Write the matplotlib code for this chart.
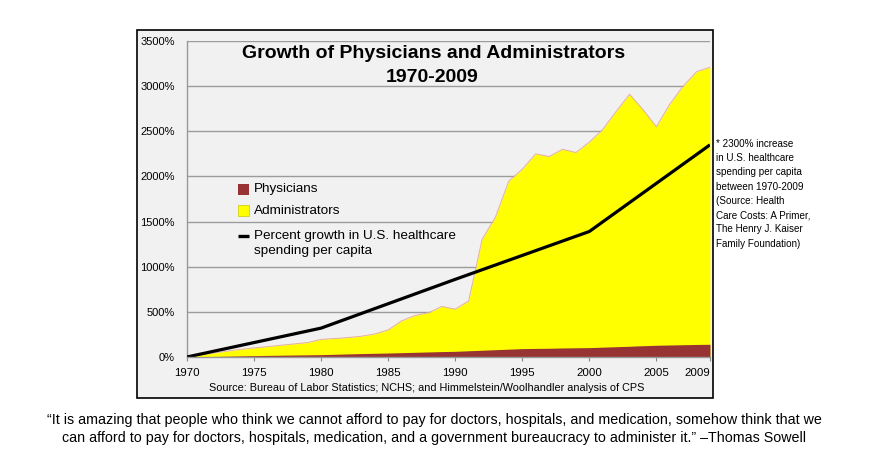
import matplotlib.pyplot as plt
from matplotlib import font_manager
from matplotlib.patches import Rectangle
from matplotlib.lines import Line2D

# Data (percent growth since 1970)
years = list(range(1970, 2010))
administrators = [0, 25, 45, 65, 85, 100, 115, 130, 145, 160,
                  195, 205, 215, 230, 255, 300, 400, 460, 490, 560,
                  530, 620, 1300, 1550, 1950, 2080, 2250, 2220, 2300, 2265,
                  2380, 2520, 2720, 2910, 2740, 2550, 2800, 3000, 3160, 3210]
physicians = [0, 3, 6, 9, 12, 15, 18, 20, 22, 24,
              26, 30, 34, 38, 41, 44, 48, 52, 56, 60,
              63, 69, 75, 81, 87, 93, 95, 97, 100, 102,
              104, 109, 114, 119, 125, 130, 133, 136, 139, 141]
spend_years = [1970, 1980, 1990, 2000, 2009]
spending = [0, 320, 860, 1390, 2350]

xticks = [1970, 1975, 1980, 1985, 1990, 1995, 2000, 2005, 2009]
yticks = [0, 500, 1000, 1500, 2000, 2500, 3000, 3500]

plt.rcParams['font.family'] = ['Liberation Sans', 'DejaVu Sans']

# the original uses a narrow font for small text; shrink if it is missing
names = {f.name for f in font_manager.fontManager.ttflist}
if 'Liberation Sans Narrow' in names:
    narrow, k = ['Liberation Sans Narrow', 'DejaVu Sans'], 1.0
else:
    narrow, k = ['Liberation Sans', 'DejaVu Sans'], 0.87

red = '#983333'
yellow = '#ffff00'
bg = '#f1f1f1'

fig = plt.figure(figsize=(8.71, 4.59), dpi=100)
fig.patch.set_facecolor('white')

def fx(px):
    return px / 871

def fy(px):
    return 1 - px / 459

# outer frame
fig.add_artist(Rectangle((fx(137), fy(398)), 576 / 871, 368 / 459,
                         transform=fig.transFigure, facecolor=bg,
                         edgecolor='black', lw=1.2, zorder=0))

ax = fig.add_axes([fx(187), fy(357), 523 / 871, 316 / 459])
ax.set_facecolor(bg)
ax.set_axisbelow(True)

ax.fill_between(years, 0, administrators, color=yellow, lw=0, zorder=2)
ax.plot(years, administrators, color='#e6b09a', lw=0.7, zorder=2.5)
ax.fill_between(years, 0, physicians, color=red, lw=0, zorder=3)
ax.plot(spend_years, spending, color='black', lw=2.3, zorder=4,
        solid_capstyle='butt')

ax.set_xlim(1970, 2009)
ax.set_ylim(0, 3500)
ax.set_xticks(xticks)
ax.set_xticklabels([str(y) for y in xticks], family=narrow, fontsize=9.5 * k)
ax.set_yticks(yticks)
ax.set_yticklabels([f'{v}%' for v in yticks], family=narrow, fontsize=9.2 * k)
ax.get_xticklabels()[-1].set_horizontalalignment('right')
ax.tick_params(axis='y', length=0, pad=8.6)
ax.tick_params(axis='x', length=3, color='#888888', pad=5)
ax.yaxis.grid(True, color='#9c9c9c', lw=1)
for s in ['top', 'right']:
    ax.spines[s].set_visible(False)
for s in ['left', 'bottom']:
    ax.spines[s].set_color('#999999')
    ax.spines[s].set_linewidth(1)
ax.spines['bottom'].set_zorder(5)

fig.text(fx(434), fy(53), 'Growth of Physicians and Administrators',
         ha='center', va='center', fontsize=14, fontweight='bold')
fig.text(fx(432), fy(77), '1970-2009',
         ha='center', va='center', fontsize=14, fontweight='bold')

# legend, laid out like the original
fig.add_artist(Rectangle((fx(238), fy(195)), 11 / 871, 11 / 459,
                         transform=fig.transFigure, facecolor=red, lw=0))
fig.add_artist(Rectangle((fx(238), fy(216.5)), 11 / 871, 11 / 459,
                         transform=fig.transFigure, facecolor=yellow,
                         edgecolor='#c8c800', lw=0.5))
fig.add_artist(Line2D([fx(238), fx(249)], [fy(236), fy(236)],
                      transform=fig.transFigure, color='black', lw=2.4,
                      solid_capstyle='butt'))
legend_labels = ['Physicians', 'Administrators',
                 'Percent growth in U.S. healthcare', 'spending per capita']
for lab, ypx in zip(legend_labels, [189, 210.5, 236, 251]):
    fig.text(fx(254), fy(ypx), lab, ha='left', va='center', fontsize=9.7)

fig.text(fx(427), fy(388),
         'Source: Bureau of Labor Statistics; NCHS; and Himmelstein/Woolhandler analysis of CPS',
         ha='center', va='center', fontsize=9 * k, family=narrow)

fig.text(fx(716), fy(139),
         '* 2300% increase\nin U.S. healthcare\nspending per capita\nbetween 1970-2009\n'
         '(Source: Health\nCare Costs: A Primer,\nThe Henry J. Kaiser\nFamily Foundation)',
         ha='left', va='top', fontsize=8.2 * k, family=narrow, linespacing=1.53)

fig.text(fx(434), fy(429),
         '\u201cIt is amazing that people who think we cannot afford to pay for doctors, hospitals, and medication, somehow think that we\n'
         'can afford to pay for doctors, hospitals, medication, and a government bureaucracy to administer it.\u201d \u2013Thomas Sowell',
         ha='center', va='center', fontsize=11.8 * k, family=narrow, linespacing=1.42)

fig.savefig('out.png', dpi=100)
